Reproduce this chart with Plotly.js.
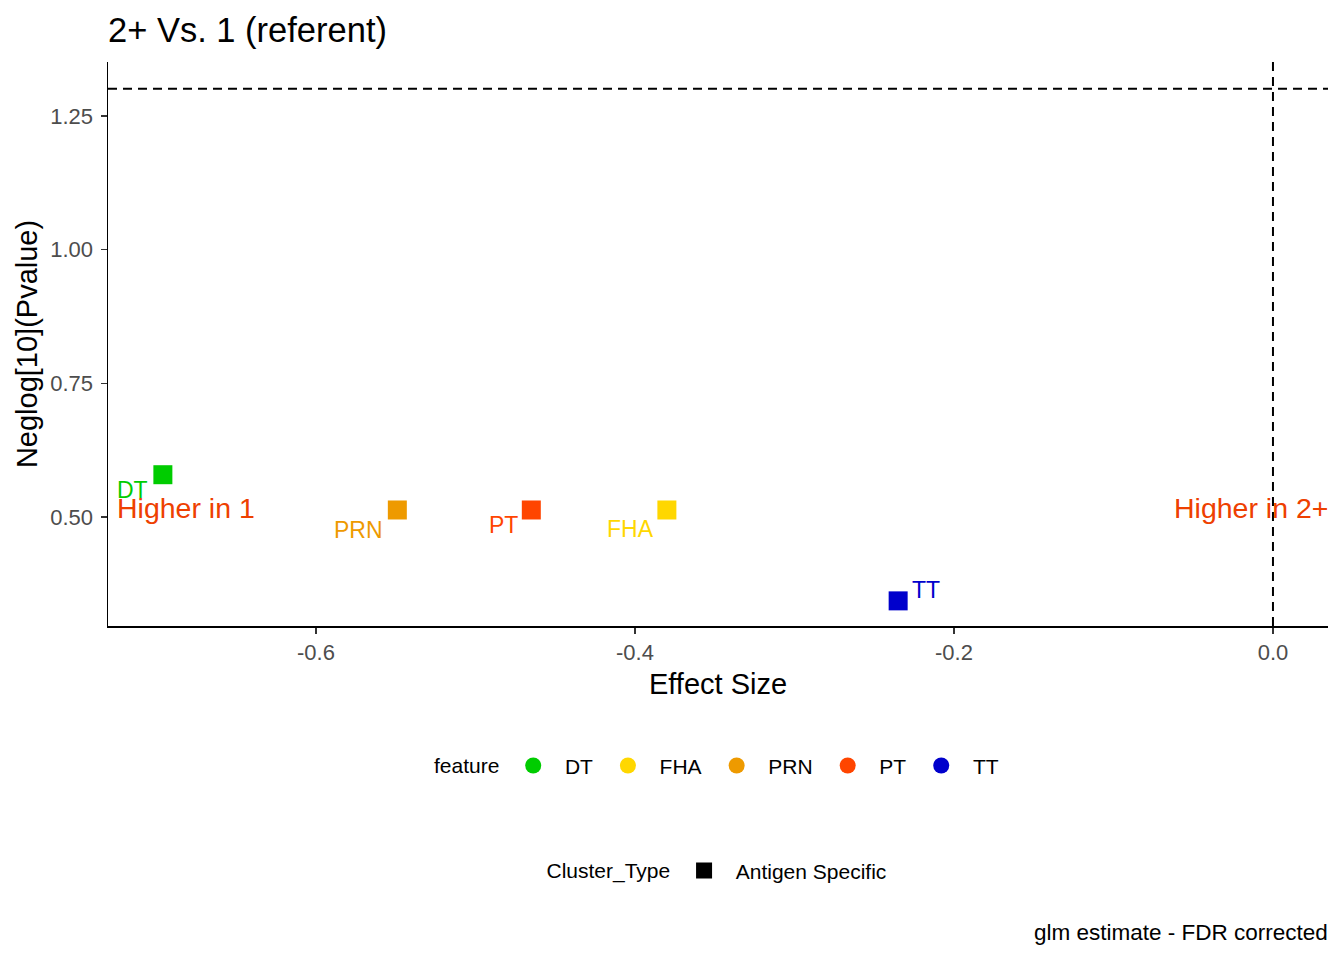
<!DOCTYPE html>
<html>
<head>
<meta charset="utf-8">
<script src="https://cdn.plot.ly/plotly-3.0.1.min.js"></script>
<style>
html, body { margin: 0; padding: 0; background: #fff; }
#chart { width: 1344px; height: 960px; }
</style>
</head>
<body>
<div id="chart"></div>
<script>
// data
let features = ["DT", "FHA", "PRN", "PT", "TT"]
let effectSize = [-0.696, -0.380, -0.549, -0.465, -0.235]
let neglogP = [0.579, 0.513, 0.513, 0.513, 0.343]
let featureColors = ["#00CC00", "#FFD700", "#EE9A00", "#FF4500", "#0000CC"]
let clusterTypes = ["Antigen Specific"]
let xTicks = [-0.6, -0.4, -0.2, 0.0]
let xTickText = ["-0.6", "-0.4", "-0.2", "0.0"]
let yTicks = [0.5, 0.75, 1.0, 1.25]
let yTickText = ["0.50", "0.75", "1.00", "1.25"]
let pThreshold = 0.05

// label offsets (px) like ggrepel put them
let labelShift = {
DT: [-30, -15],
FHA: [-36, -19],
PRN: [-39, -20],
PT: [-28, -15],
TT: [28, 11]
}

let font = "Liberation Sans, Arial, sans-serif"
let pad = "\u00A0\u00A0"

let traces = []

features.forEach((f, i) => {
traces.push({
x: [effectSize[i]],
y: [neglogP[i]],
type: "scatter",
mode: "markers",
marker: { symbol: "square", size: 19, color: featureColors[i] },
showlegend: false,
name: f
})
})

// legend entries for feature
features.forEach((f, i) => {
let last = i == features.length - 1
traces.push({
x: [null],
y: [null],
type: "scatter",
mode: "markers",
marker: { symbol: "circle", size: 16, color: featureColors[i] },
name: pad + f + (last ? "" : "\u00A0\u2009"),
legend: "legend",
showlegend: true
})
})

// legend entry for Cluster_Type
clusterTypes.forEach(c => {
traces.push({
x: [null],
y: [null],
type: "scatter",
mode: "markers",
marker: { symbol: "square", size: 16, color: "#000000" },
name: pad + c,
legend: "legend2",
showlegend: true
})
})

let annotations = features.map((f, i) => ({
x: effectSize[i],
y: neglogP[i],
text: f,
showarrow: false,
xshift: labelShift[f][0],
yshift: labelShift[f][1],
font: { family: font, size: 23, color: featureColors[i] }
}))

annotations.push({
x: -0.726, y: 0.517, xanchor: "left", yanchor: "middle",
text: "Higher in 1", showarrow: false,
font: { family: font, size: 28.5, color: "#EE4000" }
})
annotations.push({
x: 1, xref: "paper", xshift: 2, y: 0.517, xanchor: "right", yanchor: "middle",
text: "Higher in 2+", showarrow: false,
font: { family: font, size: 28.5, color: "#EE4000" }
})
annotations.push({
x: 1, xref: "paper", xshift: 2, y: -0.544, yref: "paper", xanchor: "right", yanchor: "middle",
text: "glm estimate - FDR corrected", showarrow: false,
font: { family: font, size: 22.5, color: "#000000" }
})

let legendBase = {
orientation: "h",
xref: "paper",
x: 0.5,
xanchor: "center",
yanchor: "middle",
font: { family: font, size: 21, color: "#000000" },
bgcolor: "rgba(0,0,0,0)"
}

let layout = {
width: 1344,
height: 960,
paper_bgcolor: "#ffffff",
plot_bgcolor: "#ffffff",
margin: { l: 108, r: 16, t: 62, b: 334 },
font: { family: font, color: "#000000" },
title: {
text: "2+ Vs. 1 (referent)",
x: 0, xref: "paper", xanchor: "left",
y: 1 - 30 / 960, yref: "container", yanchor: "middle",
font: { family: font, size: 34.5, color: "#000000" }
},
xaxis: {
range: [-0.7304, 0.0345],
tickvals: xTicks,
ticktext: xTickText,
showgrid: false,
zeroline: false,
showline: true,
linecolor: "#000000",
linewidth: 1.5,
ticks: "outside",
ticklen: 6,
tickwidth: 1.5,
tickcolor: "#333333",
tickfont: { family: font, size: 22, color: "#4D4D4D" },
title: { text: "Effect Size", standoff: 10, font: { family: font, size: 29, color: "#000000" } }
},
yaxis: {
range: [0.296, 1.351],
tickvals: yTicks,
ticktext: yTickText,
showgrid: false,
zeroline: false,
showline: true,
linecolor: "#000000",
linewidth: 1.5,
ticks: "outside",
ticklen: 6,
tickwidth: 1.5,
tickcolor: "#333333",
ticklabelstandoff: 3,
tickfont: { family: font, size: 22, color: "#4D4D4D" },
title: { text: "Neglog[10](Pvalue)", standoff: 4, font: { family: font, size: 29, color: "#000000" } }
},
shapes: [
{
type: "line", xref: "paper", x0: 0, x1: 1,
y0: -Math.log10(pThreshold), y1: -Math.log10(pThreshold),
line: { color: "#000000", width: 2, dash: "9px,6px" }
},
{
type: "line", yref: "paper", y0: 0, y1: 1, x0: 0, x1: 0,
line: { color: "#000000", width: 2, dash: "9px,6px" }
}
],
annotations: annotations,
legend: Object.assign({}, legendBase, {
y: -0.248,
title: { text: "feature\u00A0", side: "left", font: { family: font, size: 21, color: "#000000" } }
}),
legend2: Object.assign({}, legendBase, {
y: -0.434,
title: { text: "Cluster_Type\u00A0", side: "left", font: { family: font, size: 21, color: "#000000" } }
}),
showlegend: true
}

Plotly.newPlot("chart", traces, layout, { displayModeBar: false, staticPlot: true })
</script>
</body>
</html>
